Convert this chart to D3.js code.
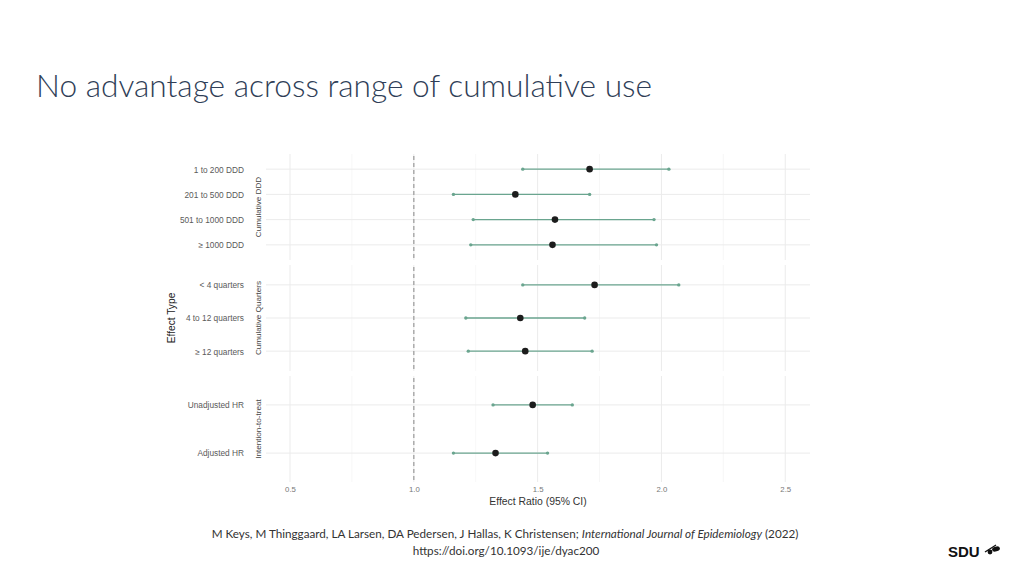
<!DOCTYPE html>
<html>
<head>
<meta charset="utf-8">
<script src="https://cdn.jsdelivr.net/npm/d3@7"></script>
<style>
  html, body { margin: 0; padding: 0; background: #fff; }
  svg { display: block; }
</style>
</head>
<body>
<svg id="chart" width="1024" height="576"></svg>
<script>
// ---- Data ----
const panelNames = ["Cumulative DDD", "Cumulative Quarters", "Intention-to-treat"];
const dddLabels = ["1 to 200 DDD", "201 to 500 DDD", "501 to 1000 DDD", "\u2265 1000 DDD"];
const dddEst   = [1.71, 1.41, 1.57, 1.56];
const dddLow   = [1.44, 1.16, 1.24, 1.23];
const dddHigh  = [2.03, 1.71, 1.97, 1.98];

const qLabels = ["< 4 quarters", "4 to 12 quarters", "\u2265 12 quarters"];
const qEst    = [1.73, 1.43, 1.45];
const qLow    = [1.44, 1.21, 1.22];
const qHigh   = [2.07, 1.69, 1.72];

const ittLabels = ["Unadjusted HR", "Adjusted HR"];
const ittEst    = [1.48, 1.33];
const ittLow    = [1.32, 1.16];
const ittHigh   = [1.64, 1.54];

const xTicks = [0.5, 1.0, 1.5, 2.0, 2.5];
const xMinor = [0.75, 1.25, 1.75, 2.25];

const panels = [
  { name: panelNames[0], labels: dddLabels, est: dddEst, low: dddLow, high: dddHigh },
  { name: panelNames[1], labels: qLabels,  est: qEst,   low: qLow,   high: qHigh },
  { name: panelNames[2], labels: ittLabels, est: ittEst, low: ittLow, high: ittHigh }
];

// ---- Layout ----
const svg = d3.select("#chart");
const font = "'Liberation Sans', Arial, sans-serif";
const ciColor = "#6aa58f";

// Title
svg.append("text")
  .attr("x", 36).attr("y", 97)
  .attr("font-family", "Lato, 'Open Sans', sans-serif")
  .attr("font-size", 31).attr("font-weight", 300)
  .attr("fill", "#2f3e57")
  .attr("textLength", 616).attr("lengthAdjust", "spacingAndGlyphs")
  .text("No advantage across range of cumulative use");

const plotLeft = 266, plotRight = 810;
const x = d3.scaleLinear().domain([0.403, 2.6]).range([plotLeft, plotRight]);

const panelTops = [154, 265, 376];
const panelH = 106;

panels.forEach((p, i) => {
  const top = panelTops[i], bottom = top + panelH;
  const y = d3.scalePoint().domain(p.labels).range([top, bottom]).padding(0.6);
  const g = svg.append("g");

  g.selectAll(".minor").data(xMinor).enter().append("line")
    .attr("x1", d => x(d)).attr("x2", d => x(d))
    .attr("y1", top).attr("y2", bottom)
    .attr("stroke", "#f2f2f2").attr("stroke-width", 0.6);
  g.selectAll(".major").data(xTicks).enter().append("line")
    .attr("x1", d => x(d)).attr("x2", d => x(d))
    .attr("y1", top).attr("y2", bottom)
    .attr("stroke", "#ebebeb").attr("stroke-width", 1);
  g.selectAll(".hgrid").data(p.labels).enter().append("line")
    .attr("x1", plotLeft).attr("x2", plotRight)
    .attr("y1", d => y(d)).attr("y2", d => y(d))
    .attr("stroke", "#ebebeb").attr("stroke-width", 1);

  g.append("line")
    .attr("x1", x(1)).attr("x2", x(1))
    .attr("y1", top + 2).attr("y2", bottom)
    .attr("stroke", "#9a9a9a").attr("stroke-width", 1.2)
    .attr("stroke-dasharray", "4,3");

  const yAxis = d3.axisLeft(y).tickSize(0).tickPadding(0);
  const ya = g.append("g").attr("transform", `translate(244,0)`).call(yAxis);
  ya.select(".domain").remove();
  ya.selectAll("text")
    .attr("font-family", font).attr("font-size", 8.3).attr("fill", "#5a5a5a")
    .attr("dy", "0.35em");

  g.append("text")
    .attr("transform", `translate(261,${(top + bottom) / 2}) rotate(-90)`)
    .attr("text-anchor", "middle")
    .attr("font-family", font).attr("font-size", 8.1).attr("fill", "#444")
    .text(p.name);

  p.labels.forEach((lab, j) => {
    g.append("line")
      .attr("x1", x(p.low[j])).attr("x2", x(p.high[j]))
      .attr("y1", y(lab)).attr("y2", y(lab))
      .attr("stroke", ciColor).attr("stroke-width", 1.4);
    g.append("circle").attr("cx", x(p.low[j])).attr("cy", y(lab)).attr("r", 1.7).attr("fill", ciColor);
    g.append("circle").attr("cx", x(p.high[j])).attr("cy", y(lab)).attr("r", 1.7).attr("fill", ciColor);
    g.append("circle").attr("cx", x(p.est[j])).attr("cy", y(lab)).attr("r", 3.3).attr("fill", "#1c1c1c");
  });
});

const xAxis = d3.axisBottom(x).tickValues(xTicks).tickFormat(d3.format(".1f")).tickSize(0).tickPadding(0);
const xa = svg.append("g").attr("transform", `translate(0,486)`).call(xAxis);
xa.select(".domain").remove();
xa.selectAll("text").attr("font-family", font).attr("font-size", 7.8).attr("fill", "#777");

svg.append("text")
  .attr("x", (plotLeft + plotRight) / 2).attr("y", 505)
  .attr("text-anchor", "middle")
  .attr("font-family", font).attr("font-size", 10.4).attr("fill", "#333")
  .text("Effect Ratio (95% CI)");

svg.append("text")
  .attr("transform", `translate(175,318) rotate(-90)`)
  .attr("text-anchor", "middle")
  .attr("font-family", font).attr("font-size", 10.2).attr("fill", "#222")
  .text("Effect Type");

const cit = svg.append("text")
  .attr("x", 505).attr("y", 538)
  .attr("text-anchor", "middle")
  .attr("font-family", "Lato, 'Open Sans', sans-serif")
  .attr("font-size", 11.7).attr("fill", "#333");
cit.append("tspan").text("M Keys, M Thinggaard, LA Larsen, DA Pedersen, J Hallas, K Christensen; ");
cit.append("tspan").attr("font-style", "italic").text("International Journal of Epidemiology");
cit.append("tspan").text(" (2022)");
svg.append("text")
  .attr("x", 506).attr("y", 555)
  .attr("text-anchor", "middle")
  .attr("font-family", "Lato, 'Open Sans', sans-serif")
  .attr("font-size", 11.7).attr("fill", "#333")
  .text("https://doi.org/10.1093/ije/dyac200");

svg.append("text")
  .attr("x", 948).attr("y", 557)
  .attr("font-family", "'Liberation Sans', Arial, sans-serif")
  .attr("font-weight", "bold").attr("font-size", 15).attr("fill", "#111")
  .text("SDU");
const logo = svg.append("g").attr("transform", "translate(987,549)");
logo.append("path").attr("d", "M-2,3 L9,-4").attr("stroke", "#111").attr("stroke-width", 1.3);
logo.append("ellipse").attr("cx", 9).attr("cy", 0).attr("rx", 4).attr("ry", 2.4).attr("fill", "#111").attr("transform", "rotate(-15,9,0)");
logo.append("circle").attr("cx", 3).attr("cy", 3).attr("r", 2.4).attr("fill", "#111");
</script>
</body>
</html>
